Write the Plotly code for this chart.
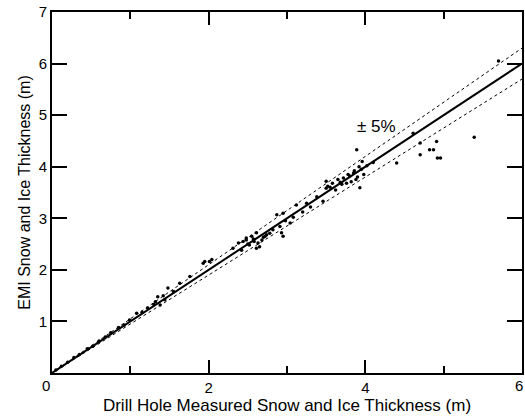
import plotly.graph_objects as go

# Measured (drill hole) vs EMI thickness, metres
drill_x = [0.05, 0.12, 0.2, 0.28, 0.35, 0.45, 0.52, 0.6, 0.68, 0.75, 0.85, 0.92, 0.99, 1.08,
           1.15, 1.22, 1.3, 1.32, 1.35, 1.38, 1.42, 1.44, 1.48, 1.55, 1.63, 1.76, 1.93, 1.95,
           2.01, 2.04, 2.31, 2.38, 2.42, 2.44, 2.48, 2.48, 2.5, 2.52, 2.55, 2.57, 2.58, 2.61,
           2.61, 2.63, 2.65, 2.68, 2.7, 2.72, 2.74, 2.78, 2.82, 2.87, 2.91, 2.93, 2.95, 2.95,
           2.98, 3.04, 3.08, 3.12, 3.2, 3.25, 3.3, 3.38, 3.46, 3.5, 3.5, 3.52, 3.55, 3.58,
           3.62, 3.65, 3.68, 3.7, 3.72, 3.76, 3.78, 3.8, 3.82, 3.85, 3.86, 3.88, 3.89, 3.9,
           3.92, 3.93, 3.95, 3.96, 3.98, 4.02, 4.1, 4.4, 4.61, 4.7, 4.7, 4.82, 4.87, 4.91,
           4.92, 4.96, 5.39, 5.7]
emi_y = [0.06, 0.13, 0.21, 0.3, 0.36, 0.47, 0.52, 0.62, 0.7, 0.78, 0.88, 0.93, 1.03, 1.16,
         1.18, 1.26, 1.33, 1.38, 1.48, 1.32, 1.5, 1.42, 1.65, 1.58, 1.74, 1.87, 2.13, 2.16,
         2.16, 2.2, 2.42, 2.52, 2.38, 2.55, 2.58, 2.62, 2.5, 2.48, 2.65, 2.6, 2.55, 2.42,
         2.72, 2.52, 2.45, 2.58, 2.63, 2.65, 2.68, 2.71, 2.78, 3.07, 2.84, 2.72, 3.1, 2.65,
         2.95, 2.91, 3.02, 3.26, 3.12, 3.29, 3.22, 3.42, 3.33, 3.58, 3.72, 3.62, 3.6, 3.68,
         3.55, 3.75, 3.7, 3.66, 3.78, 3.68, 3.85, 3.82, 3.71, 3.88, 3.92, 3.75, 4.33, 3.8,
         4.0, 3.59, 3.95, 4.1, 3.85, 4.02, 4.08, 4.07, 4.65, 4.23, 4.46, 4.33, 4.33, 4.49,
         4.17, 4.17, 4.57, 6.05]

line_x = [0, 6]
one_to_one = [0, 6]
upper_5pct = [0, 6.3]
lower_5pct = [0, 5.7]

x_ticks = [0, 2, 4, 6]
x_tick_text = ["", "2", "4", ""]
y_ticks = [1, 2, 3, 4, 5, 6, 7]
edge_labels = [(0, "0", -6), (6, "6", -3)]

FONT = "Liberation Sans, Arial, sans-serif"

fig = go.Figure()
fig.add_trace(go.Scatter(x=line_x, y=upper_5pct, mode="lines",
                         line=dict(color="black", width=1, dash="3px,3px"), hoverinfo="skip"))
fig.add_trace(go.Scatter(x=line_x, y=lower_5pct, mode="lines",
                         line=dict(color="black", width=1, dash="3px,3px"), hoverinfo="skip"))
fig.add_trace(go.Scatter(x=line_x, y=one_to_one, mode="lines",
                         line=dict(color="black", width=2), hoverinfo="skip"))
fig.add_trace(go.Scatter(x=drill_x, y=emi_y, mode="markers",
                         marker=dict(color="black", size=3.5, symbol="circle")))

fig.add_annotation(x=4.14, y=4.78, text="± 5%", showarrow=False,
                   font=dict(family=FONT, size=17, color="black"))
for xv, txt, dx in edge_labels:
    fig.add_annotation(x=xv, y=0, xref="x", yref="y", text=txt, showarrow=False,
                       xshift=dx, yshift=-12, font=dict(family=FONT, size=15, color="black"))

fig.update_layout(
    width=525, height=416,
    margin=dict(l=52, r=3, t=12, b=43),
    plot_bgcolor="white", paper_bgcolor="white",
    showlegend=False,
    font=dict(family=FONT, size=15, color="black"),
)
fig.update_xaxes(
    range=[0, 6], tickvals=x_ticks, ticktext=x_tick_text, automargin=False,
    ticks="inside", ticklen=13, tickwidth=1.5, tickcolor="black",
    minor=dict(tickvals=[1, 3, 5], ticks="inside", ticklen=7, tickwidth=1.5, tickcolor="black"),
    showline=True, linecolor="black", linewidth=2, mirror="ticks",
    showgrid=False, zeroline=False,
    title=dict(text="Drill Hole Measured Snow and Ice Thickness (m)",
               font=dict(family=FONT, size=17), standoff=2),
)
fig.update_yaxes(
    range=[0, 7], tickvals=y_ticks, automargin=False,
    ticks="inside", ticklen=15, tickwidth=1.5, tickcolor="black",
    showline=True, linecolor="black", linewidth=2, mirror="ticks",
    showgrid=False, zeroline=False,
    title=dict(text="EMI Snow and Ice Thickness (m)",
               font=dict(family=FONT, size=16), standoff=4),
)

fig.write_html("out.html", config={"displayModeBar": False},
               post_script="document.body.style.margin='0';document.body.style.overflow='hidden';")
